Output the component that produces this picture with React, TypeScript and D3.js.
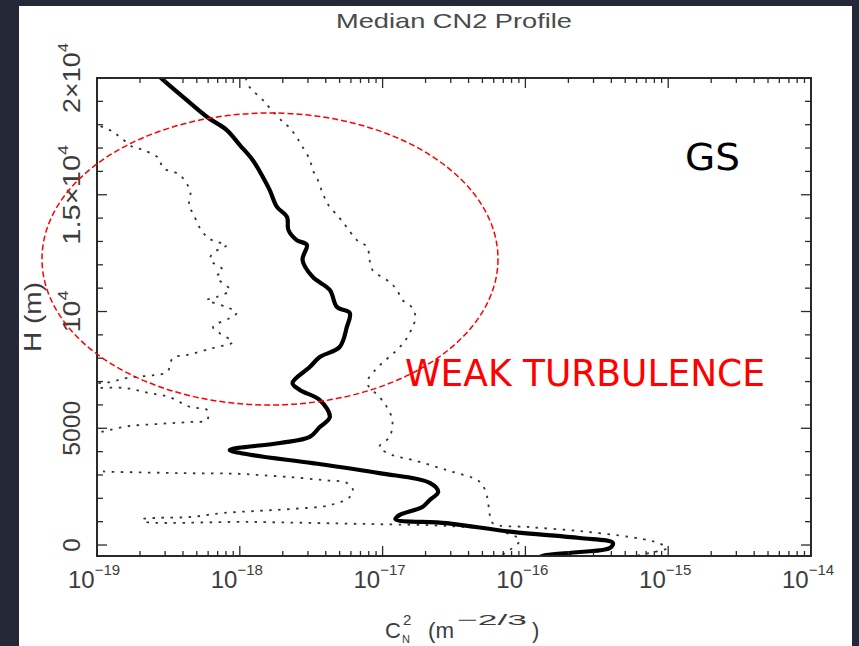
import React from 'react';
import * as d3 from 'd3';

const W = 859;
const H = 646;

// Median Cn2 profile: height (m) and Cn2 (m^-2/3)
const medianHeight = [20000, 19190, 18330, 17770, 17130, 16490, 15760, 15200, 14480, 14050, 13490, 13060, 12850, 12210, 11480, 10920, 10190, 9940, 9340, 8480, 8050, 7620, 6940, 6640, 6210, 5480, 5050, 4630, 4370, 4070, 3850, 3510, 3080, 2660, 2270, 1930, 1630, 1290, 1110, 940, 560, 300, 90, -130, -300, -430, -510];
const medianCn2 = [2.8e-19, 4.0e-19, 5.9e-19, 8.1e-19, 1.0e-18, 1.23e-18, 1.45e-18, 1.62e-18, 1.82e-18, 2.14e-18, 2.19e-18, 2.5e-18, 2.95e-18, 2.75e-18, 3.24e-18, 4.27e-18, 4.79e-18, 5.89e-18, 5.62e-18, 5.0e-18, 3.63e-18, 3.09e-18, 2.34e-18, 2.63e-18, 3.63e-18, 4.27e-18, 3.63e-18, 3.09e-18, 1.91e-18, 8.5e-19, 1.23e-18, 3.24e-18, 9.5e-18, 2.14e-17, 2.45e-17, 2.14e-17, 1.9e-17, 1.32e-17, 1.23e-17, 2.8e-17, 8.1e-17, 2.4e-16, 4.1e-16, 3.9e-16, 2.4e-16, 1.4e-16, 1.26e-16];

// Upper envelope profile
const upperHeight = [20000, 19610, 19060, 18720, 18120, 17860, 17470, 17050, 16490, 16060, 15720, 15080, 14560, 14000, 13620, 13060, 12760, 12210, 11780, 11260, 10920, 10490, 10150, 9720, 9340, 8780, 8350, 7920, 7500, 6940, 6340, 5910, 5350, 4630, 4200, 3850, 3640, 3210, 2700, 2060, 1370, 940, 770, 600, 340, 130, -130, -340, -470];
const upperCn2 = [1.1e-18, 1.17e-18, 1.45e-18, 1.62e-18, 2.0e-18, 2.24e-18, 2.5e-18, 2.75e-18, 3.1e-18, 3.24e-18, 3.47e-18, 3.8e-18, 4.17e-18, 5.0e-18, 5.6e-18, 6.6e-18, 7.8e-18, 8.1e-18, 8.5e-18, 1.12e-17, 1.26e-17, 1.38e-17, 1.62e-17, 1.7e-17, 1.62e-17, 1.45e-17, 1.26e-17, 1.05e-17, 8.9e-18, 7.8e-18, 9.5e-18, 1.07e-17, 1.17e-17, 1.12e-17, 9.5e-18, 1.17e-17, 1.62e-17, 2.8e-17, 4.8e-17, 5.4e-17, 5.6e-17, 5.9e-17, 1.07e-16, 2.4e-16, 5.4e-16, 8.1e-16, 9.8e-16, 7.4e-16, 5.9e-16];

// Lower envelope profile
const lowerHeight = [18300, 17770, 17470, 17050, 16920, 16570, 16150, 15850, 15120, 14480, 14220, 13620, 13150, 12980, 12850, 12510, 12210, 11780, 11480, 10920, 10620, 10490, 10190, 9940, 9720, 9340, 9080, 8690, 8440, 8140, 8010, 7410, 7280, 7150, 6980, 6860, 6750, 6720, 6510, 6340, 5910, 5780, 5350, 5270, 5180, 5100, 4930, 4800, 4500, 3500, 3170, 3150, 3080, 3050, 3000, 2910, 2780, 2660, 2360, 2060, 1710, 1540, 1460, 1370, 1200, 1160, 1110, 1030, 990, 900, 810, 600, 210, -210, -470];
const lowerCn2 = [7e-20, 1.23e-19, 1.45e-19, 1.78e-19, 2.1e-19, 2.7e-19, 2.9e-19, 3.8e-19, 4.5e-19, 4.4e-19, 4.7e-19, 5.2e-19, 6.0e-19, 6.9e-19, 8.1e-19, 6.5e-19, 6.2e-19, 7.6e-19, 6.9e-19, 8.5e-19, 6.9e-19, 5.9e-19, 8.1e-19, 9.5e-19, 8.5e-19, 6.5e-19, 7.2e-19, 8.9e-19, 6.5e-19, 4.3e-19, 3.4e-19, 3.1e-19, 2.5e-19, 1.6e-19, 1.23e-19, 8e-20, 9e-20, 1.6e-19, 2.3e-19, 3.2e-19, 4.5e-19, 5.9e-19, 5.9e-19, 4.5e-19, 2.6e-19, 1.7e-19, 1.23e-19, 1.0e-19, 5e-20, 5e-20, 1.0e-19, 1.1e-19, 3.8e-19, 1.0e-18, 1.32e-18, 2.24e-18, 3.8e-18, 5.6e-18, 6.2e-18, 5.9e-18, 4.3e-18, 2.24e-18, 1.32e-18, 7.6e-19, 4.5e-19, 2.6e-19, 2.1e-19, 2.1e-19, 1.17e-18, 7.8e-18, 2.95e-17, 6.6e-17, 9.1e-17, 7.8e-17, 6.6e-17];

// Axis ticks
const xDecades = [-19, -18, -17, -16, -15, -14];
const yMajorTicks = [0, 5000, 10000, 15000, 20000];
const yTickPrefix = ['0', '5000', '', '1.5×', '2×'];
const yTickPower = ['', '', '4', '4', '4'];

const plot = { left: 97, right: 811, top: 78, bottom: 556 };
const axisColor = '#2a2a2a';
const textColor = '#3c3c3c';
const font = '"Liberation Sans", Arial, sans-serif';
const handFont = '"DejaVu Sans", "Open Sans", sans-serif';

// Drawn lengths of the rotated height labels (wide plotter-style lettering)
const yLabelLength = [0, 55, 42, 100, 70];

export default function App() {
  const x = d3.scaleLog().domain([1e-19, 1e-14]).range([plot.left, plot.right]);
  const y = d3.scaleLinear().domain([-470, 20000]).range([plot.bottom, plot.top]);

  const smooth = d3
    .line<[number, number]>()
    .x((d) => x(d[1]))
    .y((d) => y(d[0]))
    .curve(d3.curveCatmullRom.alpha(0.5));

  const medianPath = smooth(medianHeight.map((h, i) => [h, medianCn2[i]]));
  const upperPath = smooth(upperHeight.map((h, i) => [h, upperCn2[i]]));
  const lowerPath = smooth(lowerHeight.map((h, i) => [h, lowerCn2[i]]));

  const xMinor: number[] = [];
  for (let e = -19; e < -14; e++) {
    for (let k = 2; k <= 9; k++) xMinor.push(k * Math.pow(10, e));
  }
  const yMinor = d3.range(1000, 20000, 1000).filter((v) => v % 5000 !== 0);

  const majorLen = 10;
  const minorLen = 5;

  return (
    <svg
      width={W}
      height={H}
      style={{ position: 'absolute', left: 0, top: 0, display: 'block' }}
    >
      <rect x={0} y={0} width={W} height={H} fill="#252836" />
      <rect x={19} y={6} width={833} height={H - 6} fill="#ffffff" />

      <defs>
        <clipPath id="plot-area">
          <rect x={plot.left} y={plot.top} width={plot.right - plot.left} height={plot.bottom - plot.top} />
        </clipPath>
      </defs>

      {/* Title */}
      <text
        x={454}
        y={28}
        textAnchor="middle"
        fontFamily={font}
        fontSize={21}
        fill="#4a4a4a"
        textLength={236}
        lengthAdjust="spacingAndGlyphs"
      >
        Median CN2 Profile
      </text>

      {/* Profiles */}
      <g clipPath="url(#plot-area)" fill="none">
        <path d={lowerPath || ''} stroke="#333" strokeWidth={1.8} strokeDasharray="2.5 6.5" />
        <path d={upperPath || ''} stroke="#333" strokeWidth={1.8} strokeDasharray="2.5 6.5" />
        <path d={medianPath || ''} stroke="#000" strokeWidth={4.2} strokeLinejoin="round" strokeLinecap="round" />
      </g>

      {/* Frame */}
      <rect
        x={plot.left}
        y={plot.top}
        width={plot.right - plot.left}
        height={plot.bottom - plot.top}
        fill="none"
        stroke={axisColor}
        strokeWidth={2}
      />

      {/* Ticks on all four sides, pointing inward */}
      <g stroke={axisColor} strokeWidth={1.3}>
        {xDecades.map((e) => {
          const px = x(Math.pow(10, e));
          return (
            <g key={`xd${e}`}>
              <line x1={px} x2={px} y1={plot.bottom} y2={plot.bottom - majorLen} />
              <line x1={px} x2={px} y1={plot.top} y2={plot.top + majorLen} />
            </g>
          );
        })}
        {xMinor.map((v, i) => {
          const px = x(v);
          return (
            <g key={`xm${i}`}>
              <line x1={px} x2={px} y1={plot.bottom} y2={plot.bottom - minorLen} />
              <line x1={px} x2={px} y1={plot.top} y2={plot.top + minorLen} />
            </g>
          );
        })}
        {yMajorTicks.map((v) => {
          const py = y(v);
          return (
            <g key={`ym${v}`}>
              <line x1={plot.left} x2={plot.left + majorLen} y1={py} y2={py} />
              <line x1={plot.right} x2={plot.right - majorLen} y1={py} y2={py} />
            </g>
          );
        })}
        {yMinor.map((v) => {
          const py = y(v);
          return (
            <g key={`yn${v}`}>
              <line x1={plot.left} x2={plot.left + minorLen + 1} y1={py} y2={py} />
              <line x1={plot.right} x2={plot.right - minorLen - 1} y1={py} y2={py} />
            </g>
          );
        })}
      </g>

      {/* X tick labels */}
      <g fontFamily={font} fill={textColor}>
        {xDecades.map((e) => (
          <text key={`xl${e}`} x={x(Math.pow(10, e)) - 3} y={588} textAnchor="middle" fontSize={24}>
            10
            <tspan dy={-13} fontSize={15}>
              {`−${Math.abs(e)}`}
            </tspan>
          </text>
        ))}
      </g>

      {/* Y tick labels (rotated) */}
      <g fontFamily={font} fill={textColor}>
        {yMajorTicks.map((v, i) => (
          <text
            key={`yl${v}`}
            transform={`translate(80,${y(v)}) rotate(-90)`}
            textAnchor="middle"
            fontSize={24}
            textLength={yLabelLength[i] || undefined}
            lengthAdjust={yLabelLength[i] ? 'spacingAndGlyphs' : undefined}
          >
            {yTickPrefix[i]}
            {yTickPower[i] ? '10' : ''}
            {yTickPower[i] ? (
              <tspan dy={-12} fontSize={15}>
                {yTickPower[i]}
              </tspan>
            ) : null}
          </text>
        ))}
      </g>

      {/* Axis titles */}
      <text
        transform="translate(41,317) rotate(-90)"
        textAnchor="middle"
        fontFamily={font}
        fontSize={24}
        fill={textColor}
        textLength={70}
        lengthAdjust="spacingAndGlyphs"
      >
        H (m)
      </text>
      <g fontFamily={font} fill={textColor}>
        <text x={385} y={638} fontSize={22}>C</text>
        <text x={402} y={643} fontSize={11}>N</text>
        <text x={403} y={625} fontSize={15}>2</text>
        <text x={428} y={638} fontSize={22} textLength={26} lengthAdjust="spacingAndGlyphs">(m</text>
        <text x={457} y={625} fontSize={15} textLength={70} lengthAdjust="spacingAndGlyphs">−2/3</text>
        <text x={532} y={638} fontSize={22}>)</text>
      </g>

      {/* Annotations */}
      <ellipse
        cx={270}
        cy={259}
        rx={228}
        ry={146}
        fill="none"
        stroke="#ff0000"
        strokeWidth={1.5}
        strokeDasharray="6 3"
      />
      <text
        x={405}
        y={386}
        fontFamily={handFont}
        fontSize={38}
        fill="#ff0000"
        textLength={360}
        lengthAdjust="spacingAndGlyphs"
      >
        WEAK TURBULENCE
      </text>
      <text
        x={685}
        y={170}
        fontFamily={handFont}
        fontSize={38}
        fill="#000"
        textLength={55}
        lengthAdjust="spacingAndGlyphs"
      >
        GS
      </text>
    </svg>
  );
}
